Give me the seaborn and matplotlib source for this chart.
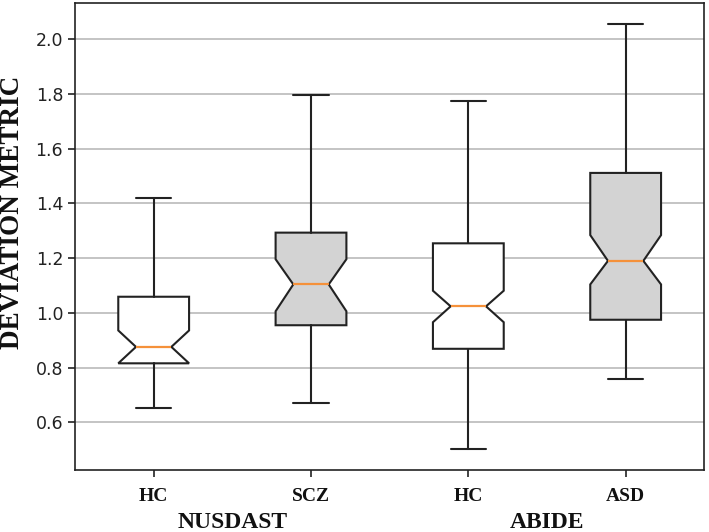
import matplotlib
matplotlib.use("Agg")
import matplotlib.pyplot as plt
import seaborn as sns

# ==============================
# 1. Dados
# ==============================
grupos = ["HC", "SCZ", "HC", "ASD"]
estudos = ["NUSDAST", "ABIDE"]

whisker_baixo = [0.654, 0.670, 0.504, 0.757]
q1 = [0.816, 0.955, 0.869, 0.975]
mediana = [0.876, 1.104, 1.024, 1.190]
q3 = [1.059, 1.293, 1.254, 1.511]
whisker_alto = [1.418, 1.795, 1.773, 2.054]
notch_baixo = [0.816, 1.006, 0.966, 1.104]
notch_alto = [0.936, 1.196, 1.081, 1.284]

cores = ["white", "lightgray", "white", "lightgray"]

# ==============================
# 2. Estilo
# ==============================
sns.set_style("ticks", {"axes.edgecolor": "#222222", "xtick.color": "#222222",
                        "ytick.color": "#222222", "text.color": "#111111"})

stats = []
for i in range(len(grupos)):
    stats.append({
        "label": grupos[i],
        "whislo": whisker_baixo[i],
        "q1": q1[i],
        "med": mediana[i],
        "q3": q3[i],
        "whishi": whisker_alto[i],
        "cilo": notch_baixo[i],
        "cihi": notch_alto[i],
        "fliers": [],
    })

# ==============================
# 3. Gráfico
# ==============================
fig = plt.figure(figsize=(7.09, 5.32), dpi=100)
ax = fig.add_axes([0.1058, 0.1165, 0.8876, 0.878])

posicoes = list(range(1, len(grupos) + 1))
bp = ax.bxp(stats, positions=posicoes, widths=0.45, shownotches=True,
            patch_artist=True,
            boxprops=dict(linewidth=1.5, edgecolor="#222222"),
            whiskerprops=dict(linewidth=1.5, color="#222222"),
            capprops=dict(linewidth=1.5, color="#222222"),
            medianprops=dict(linewidth=1.6, color="#f5913a"))
for caixa, cor in zip(bp["boxes"], cores):
    caixa.set_facecolor(cor)

ax.set_xlim(0.5, 4.5)
ax.yaxis.grid(True, color="#c4c4c4", linewidth=1.4)
ax.xaxis.grid(False)
ax.set_axisbelow(True)
for lado in ax.spines.values():
    lado.set_linewidth(1.2)
    lado.set_visible(True)

ax.set_xticks(posicoes)
ax.set_xticklabels(grupos, fontfamily="Liberation Serif", fontweight="bold",
                   fontsize=14, color="#111111")
ax.tick_params(axis="x", length=5, width=1.2, pad=8)
ax.tick_params(axis="y", length=5, width=1.2, labelsize=12.5, labelcolor="#222222")
for t in ax.get_yticklabels():
    t.set_fontfamily("DejaVu Sans")

ax.set_ylabel("DEVIATION METRIC", fontfamily="Liberation Serif",
              fontweight="bold", fontsize=19.5, va="center", color="#111111")
ax.yaxis.set_label_coords(-0.099, 0.552)

# rótulos dos estudos embaixo de cada par
for j, nome in enumerate(estudos):
    ax.text(posicoes[2 * j] + 0.5, -0.125, nome, transform=ax.get_xaxis_transform(),
            ha="center", va="baseline", fontfamily="Liberation Serif",
            fontweight="bold", fontsize=17, color="#111111")

fig.savefig("out.png", dpi=100)
